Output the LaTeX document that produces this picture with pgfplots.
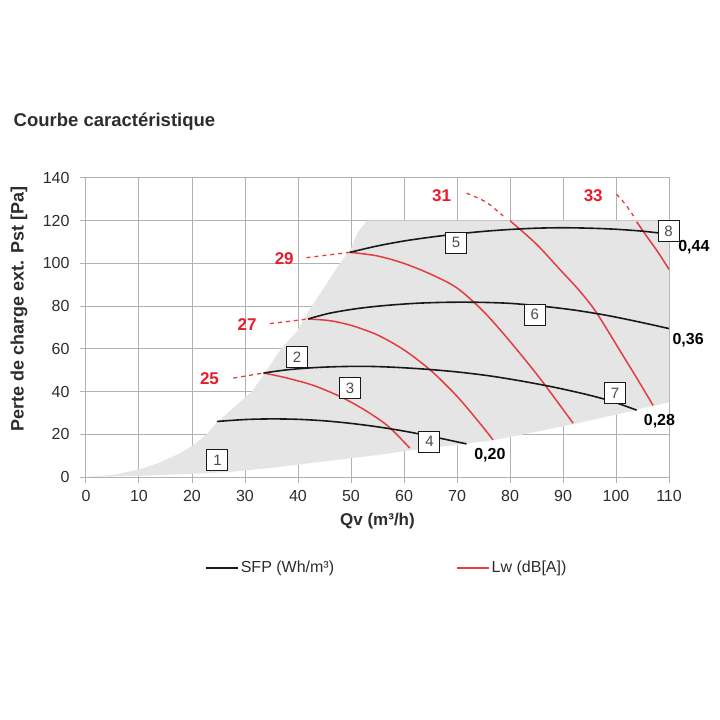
\documentclass[border=0pt]{standalone}
\usepackage{fontspec}
\setmainfont{Liberation Sans}
\usepackage{pgfplots}
\pgfplotsset{compat=1.18}
\definecolor{gridgray}{RGB}{178,178,178}
\definecolor{fillgray}{RGB}{229,229,229}
\definecolor{redline}{RGB}{228,60,66}
\definecolor{redtext}{RGB}{232,28,42}
\definecolor{txt}{RGB}{45,45,45}
\definecolor{curve}{RGB}{25,25,25}
\begin{document}
\begin{tikzpicture}
\useasboundingbox (-86pt,-243pt) rectangle (634pt,477pt);
\begin{axis}[
  scale only axis, width=583pt, height=299pt,
  xmin=0, xmax=110, ymin=0, ymax=140,
  xtick={0,10,...,110}, ytick={0,20,...,140},
  grid=major, grid style={gridgray, line width=1pt},
  axis line style={gridgray, line width=1pt},
  tick style={gridgray, line width=1pt},
  tick align=outside, major tick length=6pt, tick pos=left,
  ticklabel style={font=\fontsize{16}{16}\selectfont, text=txt},
  yticklabel style={xshift=-7pt},
  xticklabel style={yshift=-4pt},
  /pgf/number format/assume math mode=true,
  xlabel={\textbf{Qv (m³/h)}},
  xlabel style={font=\fontsize{17}{17}\selectfont, text=txt, at={(axis description cs:0.5,-0.147)}, anchor=center},
  ylabel={\textbf{Perte de charge ext. Pst [Pa]}},
  ylabel style={font=\fontsize{18}{18}\selectfont, text=txt, at={(axis description cs:-0.115,0.562)}, anchor=center},
  legend columns=2,
  legend style={at={(axis description cs:0.516,-0.304)}, anchor=center, draw=none, fill=none,
    font=\fontsize{16}{16}\selectfont, text=txt,
    /tikz/every even column/.append style={column sep=120pt}},
  legend image code/.code={\draw[#1] (0pt,0pt) -- (32pt,0pt);},
  clip=false,
]
\addlegendimage{curve, line width=1.6pt}
\addlegendentry{SFP (Wh/m³)}
\addlegendimage{redline, line width=1.6pt}
\addlegendentry{Lw (dB[A])}

% operating region
\addplot[fill=fillgray, draw=none, forget plot] coordinates {
 (0,0) (5.2,1) (10,3.5) (14,6.8) (17.7,11.1) (20,14.5) (22.8,20) (24.7,25.5) (27.2,31) (31.3,40)
 (34.1,50) (36.8,60) (39.8,68.2) (41.6,76) (42.6,80) (45,89) (47.9,100) (50,107) (51.3,114.6) (53,120)
 (110,120) (110,35) (107,33.3) (100,29.2) (92,24.8) (85,21.2) (77,17.3) (70,15) (62,12.8)
 (55,10.3) (45,7.3) (35,4.3) (27,2.3) (20,1.5) (10,0.5) (0,0)
} -- cycle;

% Lw curves (red)
\addplot[redline, line width=1.5pt, smooth, forget plot] coordinates {
 (33.5,48.7) (38,46.3) (43,42.8) (48,37.6) (52.5,31.5) (57,23.8) (61.1,13.5)};
\addplot[redline, line width=1.5pt, smooth, forget plot] coordinates {
 (41.9,74) (46,73.2) (50,71) (55,66.5) (60,59.5) (65,50) (70,37.8) (74.3,25.2) (76.8,17.4)};
\addplot[redline, line width=1.5pt, smooth, forget plot] coordinates {
 (49.8,105.2) (55,103.5) (60,100) (65,95) (70,88.5) (75,77.5) (80,63.5) (85.7,46) (91.9,25.2)};
\addplot[redline, line width=1.5pt, smooth, forget plot] coordinates {
 (80,120) (85,109) (89.4,97.2) (93,87.5) (96.3,77) (101.4,56.5) (104,46) (107,33.5)};
\addplot[redline, line width=1.5pt, smooth, forget plot] coordinates {
 (103.9,119.5) (106,112) (108,105) (110,97.2)};

% dashed extensions
\addplot[redline, line width=1.3pt, dash pattern=on 4pt off 4pt, forget plot] coordinates {(27.8,46.3) (33.5,48.7)};
\addplot[redline, line width=1.3pt, dash pattern=on 4pt off 4pt, forget plot] coordinates {(34.7,71.8) (41.9,74)};
\addplot[redline, line width=1.3pt, dash pattern=on 4pt off 4pt, forget plot] coordinates {(41.6,102.7) (49.8,105.2)};
\addplot[redline, line width=1.3pt, dash pattern=on 4pt off 4pt, smooth, forget plot] coordinates {(71.8,132.9) (75.5,128.7) (78.7,122.2)};
\addplot[redline, line width=1.3pt, dash pattern=on 4pt off 4pt, smooth, forget plot] coordinates {(100.1,132.4) (101.8,127.6) (103.3,122.2)};

% SFP curves (black)
\addplot[curve, line width=1.6pt, smooth, forget plot] coordinates {
 (24.7,26) (30,26.9) (35,27.2) (40,27) (45,26.3) (50,25.1) (55,23.5) (60,21.5) (65,19.1) (71.8,15.5)};
\addplot[curve, line width=1.6pt, smooth, forget plot] coordinates {
 (33.5,48.7) (38,50.2) (43,51.2) (48,51.7) (53,51.8) (58,51.4) (64,50.5) (70,49.2) (76,47.4) (82,45) (88,42.2) (94,38.9) (99,35.6) (103.9,31.3)};
\addplot[curve, line width=1.6pt, smooth, forget plot] coordinates {
 (41.9,74) (46,76.7) (51,78.8) (56,80.2) (62,81.3) (68,81.8) (74,81.8) (80,81.3) (86,80) (92,78.2) (98,75.8) (104,72.8) (110,69.5)};
\addplot[curve, line width=1.6pt, smooth, forget plot] coordinates {
 (49.8,105.2) (55,108.2) (60,110.5) (65,112.3) (70,113.8) (75,115) (80,115.9) (85,116.5) (90,116.7) (95,116.5) (100,116) (105,115.1) (109,114)};

% boxed numbers
\tikzset{box/.style={draw=curve, line width=0.9pt, fill=white, minimum size=21pt, inner sep=0pt,
  font=\fontsize{15}{15}\selectfont, text=black!70}}
\node[box] at (axis cs:24.8,8) {1};
\node[box] at (axis cs:39.8,56) {2};
\node[box] at (axis cs:49.8,41.6) {3};
\node[box] at (axis cs:64.8,16.6) {4};
\node[box] at (axis cs:69.8,109.7) {5};
\node[box] at (axis cs:84.7,76) {6};
\node[box] at (axis cs:99.8,39.3) {7};
\node[box] at (axis cs:109.9,115.2) {8};

% SFP values
\tikzset{sfp/.style={font=\bfseries\fontsize{16}{16}\selectfont, text=black}}
\node[sfp] at (axis cs:76.2,10.3) {0,20};
\node[sfp] at (axis cs:108.2,26) {0,28};
\node[sfp] at (axis cs:113.6,64.3) {0,36};
\node[sfp] at (axis cs:114.7,107.5) {0,44};

% Lw values
\tikzset{lw/.style={font=\bfseries\fontsize{17}{17}\selectfont, text=redtext}}
\node[lw] at (axis cs:23.3,45.9) {25};
\node[lw] at (axis cs:30.4,71.4) {27};
\node[lw] at (axis cs:37.4,102.2) {29};
\node[lw] at (axis cs:67.1,131.9) {31};
\node[lw] at (axis cs:95.7,131.9) {33};

% title
\node[anchor=west, font=\bfseries\fontsize{18.5}{18.5}\selectfont, text=txt] at (axis description cs:-0.130,1.187) {Courbe caractéristique};
\end{axis}
\end{tikzpicture}
\end{document}
